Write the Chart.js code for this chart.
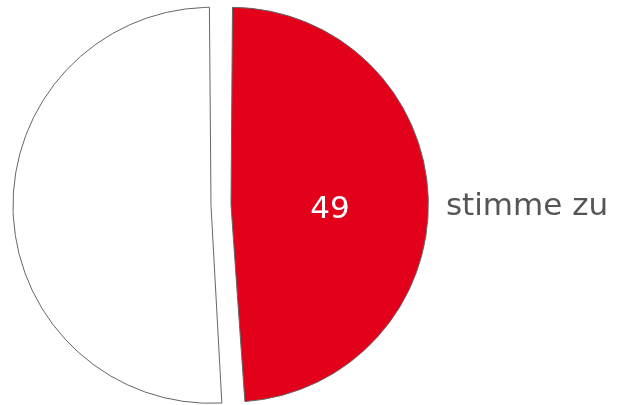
<!DOCTYPE html>
<html>
<head>
<meta charset="utf-8">
<script src="https://cdn.jsdelivr.net/npm/chart.js@4/dist/chart.umd.min.js"></script>
<style>
  html, body { margin: 0; padding: 0; background: #fff; }
  #wrap { width: 620px; height: 405px; }
</style>
</head>
<body>
<div id="wrap"><canvas id="pie" width="620" height="405"></canvas></div>
<script>
const categories = ['stimme zu', ''];
const values = [49, 51];
const sliceColors = ['#e2001a', '#ffffff'];

// draws the value inside the slice and the category outside it
const sliceLabels = {
  id: 'sliceLabels',
  afterDatasetsDraw(chart) {
    const ctx = chart.ctx;
    const meta = chart.getDatasetMeta(0);
    meta.data.forEach((arc, i) => {
      if (!categories[i]) return;
      const p = arc.getProps(['x', 'y', 'startAngle', 'endAngle', 'outerRadius']);
      const mid = (p.startAngle + p.endAngle) / 2;
      const shift = arc.options.offset / 4;
      const cx = p.x + Math.cos(mid) * shift;
      const cy = p.y + Math.sin(mid) * shift;
      const r = p.outerRadius + shift;
      ctx.save();
      ctx.font = '31px "DejaVu Sans", Verdana, sans-serif';
      ctx.textBaseline = 'middle';
      ctx.textAlign = 'center';
      ctx.fillStyle = '#ffffff';
      ctx.fillText(String(values[i]), cx + Math.cos(mid) * r * 0.5, cy + Math.sin(mid) * r * 0.5 + 8);
      ctx.textAlign = Math.cos(mid) >= 0 ? 'left' : 'right';
      ctx.fillStyle = '#555555';
      ctx.fillText(categories[i], cx + Math.cos(mid) * (r + 17), cy + Math.sin(mid) * (r + 17) + 9);
      ctx.restore();
    });
  }
};

new Chart(document.getElementById('pie'), {
  type: 'pie',
  data: {
    labels: categories,
    datasets: [{
      data: values,
      backgroundColor: sliceColors,
      borderColor: '#666666',
      borderWidth: 1,
      offset: 40,
      hoverOffset: 0
    }]
  },
  options: {
    responsive: false,
    animation: false,
    radius: 188,
    layout: { padding: { left: 0, right: 178, top: 7, bottom: 2 } },
    plugins: {
      legend: { display: false },
      tooltip: { enabled: false }
    }
  },
  plugins: [sliceLabels]
});
</script>
</body>
</html>
